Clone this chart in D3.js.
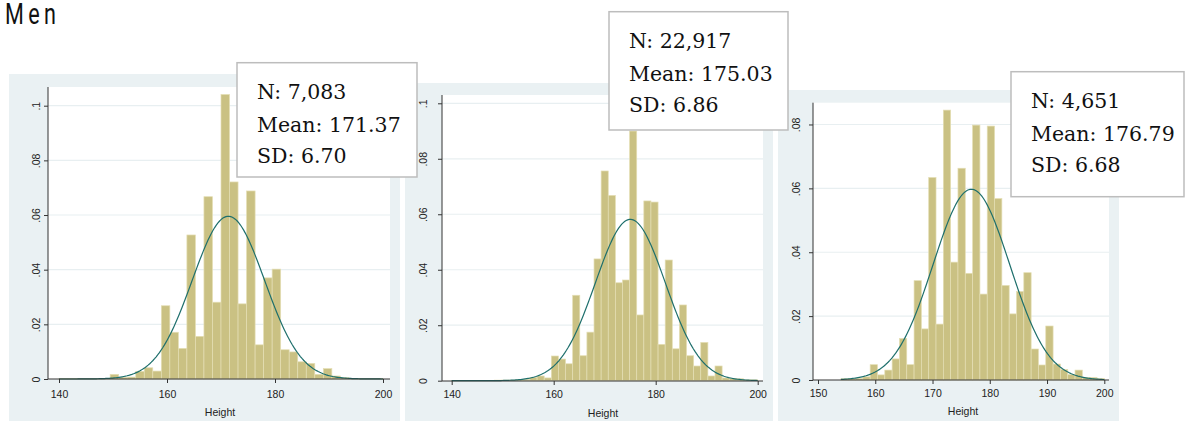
<!DOCTYPE html>
<html>
<head>
<meta charset="utf-8">
<script src="https://cdn.jsdelivr.net/npm/d3@7"></script>
<style>
  body { margin:0; background:#fff; }
  svg { display:block; }
</style>
</head>
<body>
<div class="graph"></div>
<script>
// ===========================================
// Data
// ===========================================

// panel 1 : 38 bins from 140 to 200
var bins1 = { start:140, width:60/38 };
var density1 = [0.0002,0.0002,0.0002,0.0002,0.0002,0.0002,0.0017,0.0006,0.0007,0.0028,
                0.0041,0.0029,0.0268,0.0171,0.0112,0.0527,0.0156,0.0667,0.0281,0.1041,
                0.0721,0.0275,0.0688,0.0125,0.0370,0.0402,0.0107,0.0099,0.0063,0.0057,
                0.0017,0.0038,0.0011,0.0005,0.0002,0.0002,0.0002,0.0002];
var stats1 = { n:"7,083", mean:171.37, sd:6.70 };

// panel 2 : 43 bins from 140 to 200
var bins2 = { start:140, width:60/43 };
var density2 = [0.0001,0.0001,0.0001,0.0001,0.0001,0.0001,0.0002,0.0002,0.0002,0.0003,
                0.0005,0.0012,0.0017,0.0010,0.0089,0.0078,0.0061,0.0308,0.0090,0.0175,
                0.0439,0.0756,0.0668,0.0353,0.0363,0.0900,0.0237,0.0648,0.0644,0.0131,
                0.0435,0.0115,0.0273,0.0090,0.0053,0.0138,0.0017,0.0053,0.0010,0.0008,
                0.0007,0.0003,0.0003];
var stats2 = { n:"22,917", mean:175.03, sd:6.86 };

// panel 3 : 36 bins from 154 to 200
var bins3 = { start:154, width:46/36 };
var density3 = [0.0004,0.0004,0.0005,0.0010,0.0048,0.0016,0.0031,0.0066,0.0130,0.0048,
                0.0311,0.0160,0.0634,0.0175,0.0845,0.0369,0.0663,0.0334,0.0798,0.0269,
                0.0795,0.0568,0.0296,0.0207,0.0277,0.0336,0.0097,0.0047,0.0169,0.0050,
                0.0033,0.0017,0.0031,0.0008,0.0008,0.0005];
var stats3 = { n:"4,651", mean:176.79, sd:6.68 };

var xTicks1 = [140,160,180,200];
var xTicks3 = [150,160,170,180,190,200];
var yTicks1 = [0,0.02,0.04,0.06,0.08,0.1];
var yTicks3 = [0,0.02,0.04,0.06,0.08];

var yFormat = function(v){ return v==0 ? "0" : d3.format(".2~f")(v).replace(/^0/,""); };

// layout of the three stata panels (pixel boxes)
var panels = [
  { bins:bins1, dens:density1, stats:stats1, xDom:[140,200], xTicks:xTicks1, yTicks:yTicks1,
    bg:[9,74,391,347], plot:[48,87,390,379], xr:[59,383], yr:[379,105.7],
    yLab:40, xLab:398, title:[220,416], box:[237,62.7,180,114.3] },
  { bins:bins2, dens:density2, stats:stats2, xDom:[140,200], xTicks:xTicks1, yTicks:yTicks1,
    bg:[405,83,368,338], plot:[442,95,763,381], xr:[451.7,757.7], yr:[380.7,103.3],
    yLab:427, xLab:398, title:[603,417], box:[609,11.7,179,118.3] },
  { bins:bins3, dens:density3, stats:stats3, xDom:[150,200], xTicks:xTicks3, yTicks:yTicks3,
    bg:[778,90,341,331], plot:[813,102.7,1109,380], xr:[818,1104.3], yr:[380,60.6],
    yLab:800, xLab:397, title:[963,415], box:[1011,71.7,173,125] }
];

const width = 1186;
const height = 421;

var svg = d3.select(".graph")
    .append("svg")
    .attr("width",width)
    .attr("height",height);

// condensed looking title
svg.append("text")
    .attr("transform","translate(5,24) scale(0.72,1)")
    .attr("font-family","Roboto,sans-serif")
    .attr("font-size",30)
    .attr("letter-spacing",6)
    .attr("fill","#111")
    .text("Men");

var tickFont = "'Liberation Sans',Arial,sans-serif";

panels.forEach(function(p){
    var g = svg.append("g");

    g.append("rect")
        .attr("x",p.bg[0]).attr("y",p.bg[1])
        .attr("width",p.bg[2]).attr("height",p.bg[3])
        .attr("fill","#eaf1f3");

    g.append("rect")
        .attr("x",p.plot[0]).attr("y",p.plot[1])
        .attr("width",p.plot[2]-p.plot[0]).attr("height",p.plot[3]-p.plot[1])
        .attr("fill","#fff");

    var scaleX = d3.scaleLinear().domain(p.xDom).range(p.xr);
    var scaleY = d3.scaleLinear().domain([0,0.1]).range(p.yr);

    // grid lines
    g.selectAll(".grid")
        .data(p.yTicks.filter(function(d){ return d>0; }))
        .enter()
        .append("line")
        .attr("x1",p.plot[0]).attr("x2",p.plot[2])
        .attr("y1",function(d){ return scaleY(d); })
        .attr("y2",function(d){ return scaleY(d); })
        .attr("stroke","#e8eff1")
        .attr("stroke-width",1.2);

    // bars
    g.selectAll(".bar")
        .data(p.dens)
        .enter()
        .append("rect")
        .attr("x",function(d,i){ return scaleX(p.bins.start+i*p.bins.width); })
        .attr("width",function(d,i){ return scaleX(p.bins.start+(i+1)*p.bins.width)-scaleX(p.bins.start+i*p.bins.width); })
        .attr("y",function(d){ return scaleY(d); })
        .attr("height",function(d){ return scaleY(0)-scaleY(d); })
        .attr("fill","#cac183")
        .attr("stroke","#e4deb4")
        .attr("stroke-width",0.7);

    // normal density over the data range
    var lo = p.bins.start, hi = p.bins.start+p.dens.length*p.bins.width;
    var curve = d3.range(0,201).map(function(k){
        var x = lo+(hi-lo)*k/200;
        var z = (x-p.stats.mean)/p.stats.sd;
        return [x, Math.exp(-z*z/2)/(p.stats.sd*Math.sqrt(2*Math.PI))];
    });
    g.append("path")
        .attr("d",d3.line().x(function(d){ return scaleX(d[0]); }).y(function(d){ return scaleY(d[1]); })(curve))
        .attr("fill","none")
        .attr("stroke","#1e6f6c")
        .attr("stroke-width",1.2);

    // axes
    var xAxis = d3.axisBottom(scaleX).tickValues(p.xTicks).tickSize(4).tickPadding(2);
    var ax = g.append("g")
        .attr("transform","translate(0,"+p.plot[3]+")")
        .call(xAxis);
    ax.select(".domain").attr("d","M"+p.plot[0]+",0H"+p.plot[2]).attr("stroke","#333");
    ax.selectAll("line").attr("stroke","#333");
    ax.selectAll("text")
        .attr("y",p.xLab-p.plot[3]).attr("dy",null)
        .attr("font-family",tickFont).attr("font-size",10.5).attr("fill","#222");

    var yAxis = d3.axisLeft(scaleY).tickValues(p.yTicks).tickSize(4).tickFormat(yFormat);
    var ay = g.append("g")
        .attr("transform","translate("+p.plot[0]+",0)")
        .call(yAxis);
    ay.select(".domain").attr("d","M0,"+p.plot[3]+"V"+p.plot[1]).attr("stroke","#333");
    ay.selectAll("line").attr("stroke","#333");
    // tick groups are already moved to their y, so only shift left and rotate
    ay.selectAll("text")
        .attr("x",null).attr("dy",null)
        .attr("transform","translate("+(p.yLab-p.plot[0])+",0) rotate(-90)")
        .attr("text-anchor","middle")
        .attr("font-family",tickFont).attr("font-size",10.5).attr("fill","#222");

    g.append("text")
        .attr("x",p.title[0]).attr("y",p.title[1])
        .attr("text-anchor","middle")
        .attr("font-family",tickFont).attr("font-size",10.5).attr("fill","#222")
        .text("Height");
});

// stat boxes go on top of everything
panels.forEach(function(p){
    var b = p.box;
    svg.append("rect")
        .attr("x",b[0]).attr("y",b[1]).attr("width",b[2]).attr("height",b[3])
        .attr("fill","#fff").attr("stroke","#bdbdbd").attr("stroke-width",1.5);
    var lines = ["N: "+p.stats.n, "Mean: "+p.stats.mean.toFixed(2), "SD: "+p.stats.sd.toFixed(2)];
    svg.selectAll(null)
        .data(lines)
        .enter()
        .append("text")
        .attr("x",b[0]+20)
        .attr("y",function(d,i){ return b[1]+[36,69,100][i]; })
        .attr("font-family","'DejaVu Serif',serif")
        .attr("font-size",20.5)
        .attr("fill","#111")
        .text(function(d){ return d; });
});
</script>
</body>
</html>
